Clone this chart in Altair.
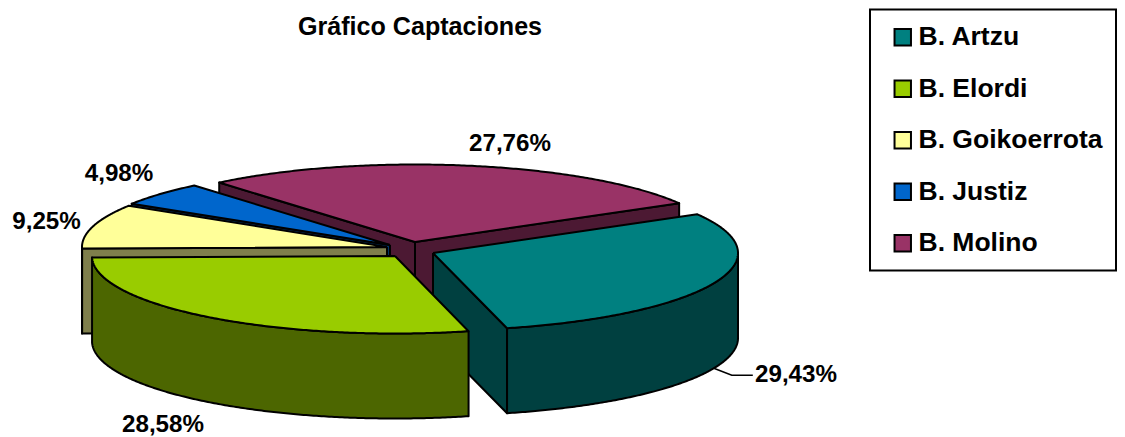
import math
import altair as alt
import pandas as pd

# ---- values ----
names = ["B. Artzu", "B. Elordi", "B. Goikoerrota", "B. Justiz", "B. Molino"]
shares = [29.43, 28.58, 9.25, 4.98, 27.76]
share_labels = ["29,43%", "28,58%", "9,25%", "4,98%", "27,76%"]
top_colors = ["#008080", "#99CC00", "#FFFF99", "#0066CC", "#993366"]
side_colors = ["#004040", "#4C6600", "#7F7F4C", "#003366", "#4C1933"]
title_text = "Gráfico Captaciones"

# ---- layout ----
M = 8
PLOT_W, PLOT_H = 1109, 429
FONT = "Liberation Sans"
RXS = [305, 303, 305, 305, 305]
RY, DEPTH = 77.5, 85
START_DEG = -30
centers = [(433, 253), (395, 256), (387, 247), (390, 245), (415, 242)]
label_pos = [(796, 375), (163, 425), (46.5, 222), (119, 174), (510, 144)]
draw_order = [4, 3, 2, 0, 1]

xs = alt.Scale(domain=[M, M + PLOT_W], range=[0, PLOT_W], nice=False, zero=False)
ys = alt.Scale(domain=[M + PLOT_H, M], range=[PLOT_H, 0], nice=False, zero=False)
X = lambda f="x": alt.X(f + ":Q", scale=xs, axis=None)
Y = lambda f="y": alt.Y(f + ":Q", scale=ys, axis=None)


def rim(k, t, drop=0):
    r = math.radians(t)
    c = centers[k]
    return c[0] + RXS[k] * math.cos(r), c[1] + RY * math.sin(r) + drop


def arc(k, t0, t1, drop=0):
    n = max(2, int(abs(t1 - t0) * 2))
    return [rim(k, t0 + (t1 - t0) * i / n, drop) for i in range(n + 1)]


def poly(points, fill):
    pts = list(points) + [points[0]]
    df = pd.DataFrame({"x": [p[0] for p in pts], "y": [p[1] for p in pts], "i": range(len(pts))})
    return alt.Chart(df).mark_line(
        fill=fill, stroke="black", strokeWidth=2, strokeJoin="round", interpolate="linear"
    ).encode(x=X(), y=Y(), order="i:Q")


# angular extents from the shares
edges = [START_DEG]
for s in shares:
    edges.append(edges[-1] + s / sum(shares) * 360)

layers = []

# box behind the legend
box = pd.DataFrame({"x": [870], "x2": [1116], "y": [9.5], "y2": [270.5]})
layers.append(
    alt.Chart(box).mark_rect(fill="white", stroke="black", strokeWidth=2).encode(
        x=X(), x2="x2:Q", y=Y(), y2="y2:Q"
    )
)

# invisible points that carry the legend
leg = pd.DataFrame({"name": names, "x": [c[0] for c in centers], "y": [c[1] for c in centers]})
layers.append(
    alt.Chart(leg).mark_square(opacity=0, size=10).encode(
        x=X(), y=Y(),
        fill=alt.Fill(
            "name:N",
            scale=alt.Scale(domain=names, range=top_colors),
            legend=alt.Legend(
                title=None, orient="none", legendX=881.5, legendY=16, padding=0,
                symbolType="square", symbolSize=270, symbolOpacity=1,
                symbolStrokeColor="black", symbolStrokeWidth=2,
                labelFont=FONT, labelFontSize=26.5, labelFontWeight="bold", labelColor="black",
                labelOffset=2.5, labelLimit=300, rowPadding=24.5,
            ),
        ),
    )
)

for k in draw_order:
    c, t0, t1 = centers[k], edges[k], edges[k + 1]
    side, top = side_colors[k], top_colors[k]
    for t, visible in ((t0, math.cos(math.radians(t0)) < 0), (t1, math.cos(math.radians(t1)) > 0)):
        if visible:
            e = rim(k, t)
            layers.append(poly([c, e, (e[0], e[1] + DEPTH), (c[0], c[1] + DEPTH)], side))
    a, b = max(t0, 0), min(t1, 180)
    if b > a:
        layers.append(poly(arc(k, a, b) + arc(k, b, a, DEPTH), side))
    layers.append(poly([c] + arc(k, t0, t1), top))

# leader line from the wall of the first slice to its label
mid = (edges[0] + edges[1]) / 2
p0 = rim(0, mid, DEPTH)
leader = pd.DataFrame({"x": [p0[0], p0[0] + 18, p0[0] + 39], "y": [p0[1], p0[1] + 7, p0[1] + 7], "i": [0, 1, 2]})
layers.append(alt.Chart(leader).mark_line(color="black", strokeWidth=1.6).encode(x=X(), y=Y(), order="i:Q"))

labels = pd.DataFrame({"t": share_labels, "x": [p[0] for p in label_pos], "y": [p[1] for p in label_pos]})
layers.append(
    alt.Chart(labels).mark_text(font=FONT, fontSize=24.2, fontWeight="bold", color="black", baseline="middle", align="center").encode(
        x=X(), y=Y(), text="t:N"
    )
)

chart = alt.layer(*layers).properties(
    width=PLOT_W,
    height=PLOT_H,
    padding=0,
    autosize=alt.AutoSizeParams(type="none"),
    title=alt.TitleParams(
        title_text, font=FONT, fontSize=25.1, fontWeight="bold", color="black",
        anchor="start", frame="group", dx=290, dy=32, offset=0, baseline="top",
    ),
).configure_view(stroke=None)

chart.save("out.html", embed_options={"renderer": "svg", "actions": False})
